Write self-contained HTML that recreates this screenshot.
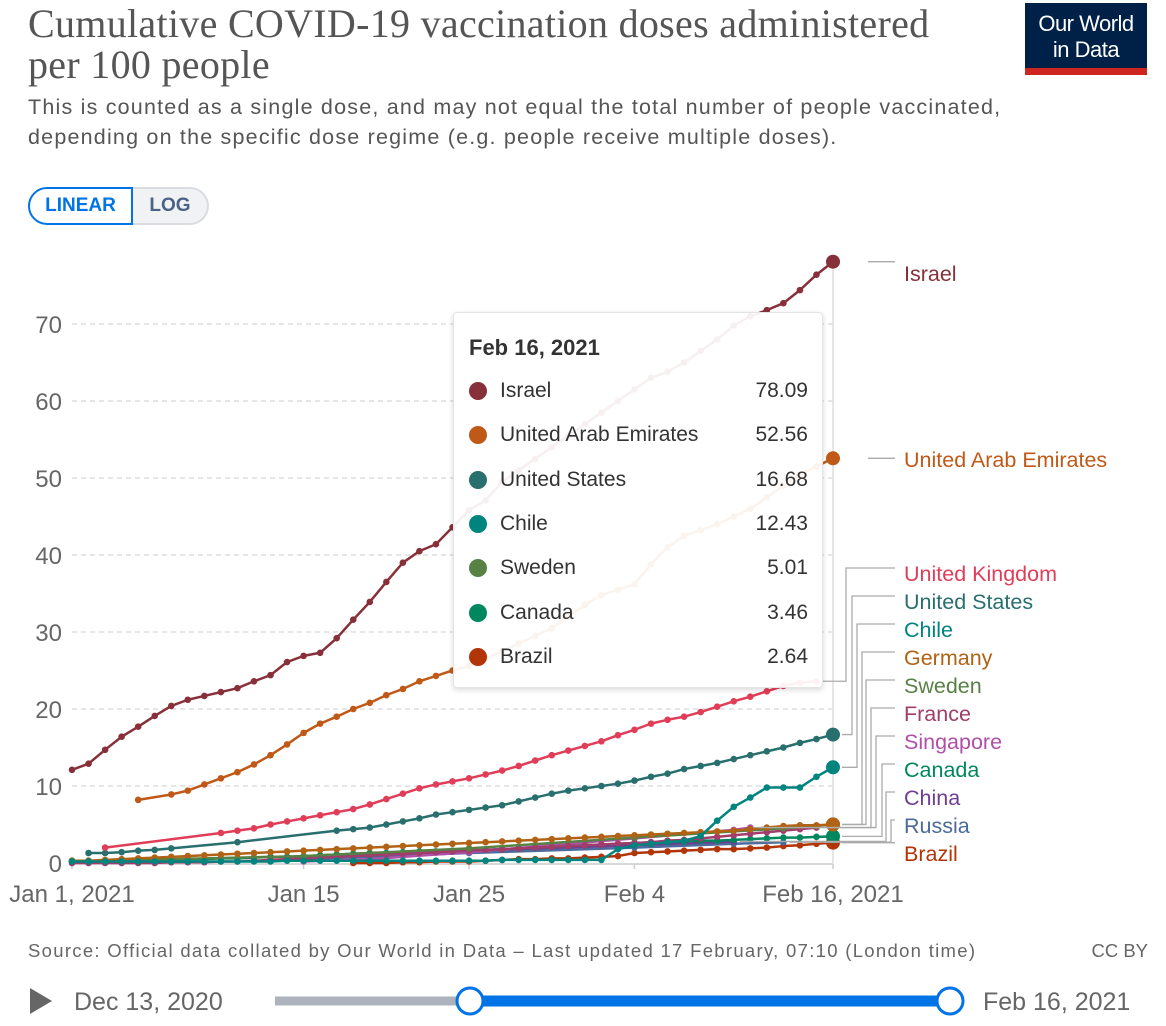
<!DOCTYPE html>
<html><head><meta charset="utf-8">
<style>
body{margin:0;background:#fff;width:1166px;height:1026px;overflow:hidden;font-family:"Liberation Sans",sans-serif;position:relative}
.abs{position:absolute}
#title{left:28px;top:3px;font-family:"Liberation Serif",serif;font-size:40px;line-height:41px;color:#555;letter-spacing:0.3px}
#sub{left:28px;top:92px;font-size:21.5px;line-height:30px;color:#555;letter-spacing:1.2px}
#logo{left:1025px;top:3px;width:122px;height:72px;background:#002147;color:#fff;font-size:22px;line-height:26px;text-align:center;box-sizing:border-box;padding-top:8px;letter-spacing:-0.5px}
#logo div.bar{position:absolute;left:0;bottom:0;width:100%;height:7px;background:#ce261e}
#lin{left:28px;top:187px;width:105px;height:38px;border:2px solid #0073e6;border-radius:20px 0 0 20px;box-sizing:border-box;color:#0073e6;font-weight:bold;font-size:19px;line-height:34px;text-align:center}
#log{left:133px;top:187px;width:76px;height:38px;border:2px solid #d8dbe0;border-left:none;border-radius:0 20px 20px 0;box-sizing:border-box;background:#f1f2f3;color:#4a6288;font-weight:bold;font-size:19px;line-height:34px;text-align:center}
#tip{left:453px;top:312px;width:370px;height:376px;background:rgba(255,255,255,0.93);border:1px solid #e4e4e4;border-radius:4px;box-shadow:0 2px 6px rgba(0,0,0,0.15);box-sizing:border-box}
#tip .t{position:absolute;left:15px;top:22px;font-weight:bold;font-size:22px;color:#333}
#tip .r{position:absolute;left:0;width:100%;height:30px;font-size:21px;color:#333}
#tip .r .d{position:absolute;left:15px;top:5px;width:18px;height:18px;border-radius:50%}
#tip .r .n{position:absolute;left:46px;top:2px}
#tip .r .v{position:absolute;right:14px;top:2px}
#src{left:28px;top:940px;font-size:18.5px;color:#666;letter-spacing:1.3px}
#cc{right:18px;top:940px;font-size:18.5px;color:#666}
</style></head><body>
<div id="title" class="abs">Cumulative COVID-19 vaccination doses administered<br>per 100 people</div>
<div id="sub" class="abs">This is counted as a single dose, and may not equal the total number of people vaccinated,<br>depending on the specific dose regime (e.g. people receive multiple doses).</div>
<div id="logo" class="abs">Our World<br>in Data<div class="bar"></div></div>
<div id="lin" class="abs">LINEAR</div>
<div id="log" class="abs">LOG</div>
<svg id="chart" class="abs" style="left:0;top:0" width="1166" height="1026"></svg>
<div id="tip" class="abs">
<div class="t">Feb 16, 2021</div>
</div>
<div id="src" class="abs">Source: Official data collated by Our World in Data – Last updated 17 February, 07:10 (London time)</div>
<div id="cc" class="abs">CC BY</div>
<script>
const dayLabels=["Jan 1, 2021","Jan 15","Jan 25","Feb 4","Feb 16, 2021"];
const dayTicks=[0,14,24,34,46];
const yTicks=[0,10,20,30,40,50,60,70];
const names=["Israel","United Arab Emirates","United Kingdom","United States","Chile","Germany","Sweden","France","Singapore","Canada","China","Russia","Brazil"];
const colors=["#883039","#c05917","#e03d58","#286f6d","#00847e","#b16214","#578145","#a13c6b","#b04fa9","#00875e","#6d3e91","#4c6a9c","#b13507"];
const N=null;
const israel=[12.1,12.9,14.7,16.4,17.7,19.1,20.4,21.2,21.7,22.2,22.7,23.6,24.4,26.1,26.9,27.3,29.2,31.6,33.9,36.5,39.0,40.5,41.4,43.6,45.8,47.1,49.5,51,52.5,54,55.5,57,58.5,60,61.5,63,63.8,65,66.5,68,69.8,71.0,71.8,72.7,74.4,76.4,78.09];
const uae=[N,N,N,N,8.2,N,8.9,9.4,10.2,11,11.8,12.8,14,15.4,16.9,18.1,19,20,20.8,21.8,22.6,23.6,24.3,25,25.6,26.5,27.5,28.5,29.5,30.5,32,33.5,34.8,35.5,36.2,38.8,41,42.5,43.2,44,45,46,47.5,49,50.5,51.5,52.56];
const uk=[N,N,2.0,N,N,N,N,N,N,3.9,4.2,4.5,5.0,5.4,5.8,6.2,6.6,7.0,7.6,8.3,9.0,9.7,10.2,10.6,11.0,11.5,12.0,12.6,13.3,14.0,14.6,15.2,15.8,16.6,17.3,18.1,18.6,19.0,19.6,20.3,21.0,21.6,22.3,23.0,23.4,23.6,N];
const us=[N,1.3,1.3,1.4,1.6,1.7,1.9,N,N,N,2.7,N,N,N,N,N,4.2,4.4,4.6,5.0,5.4,5.8,6.3,6.6,6.9,7.2,7.5,8.0,8.5,9.0,9.4,9.7,10.0,10.3,10.7,11.2,11.6,12.2,12.6,13.0,13.5,14.0,14.5,15.0,15.6,16.1,16.68];
const chile=[0.2,0.2,0.2,0.2,0.2,0.2,0.2,0.2,0.2,0.2,0.2,0.2,0.2,0.3,0.3,0.3,0.3,0.3,0.3,0.3,0.3,0.3,0.3,0.3,0.3,0.3,0.4,0.4,0.4,0.4,0.4,0.4,0.4,1.8,2.3,2.5,2.7,2.9,3.5,5.5,7.3,8.5,9.8,9.8,9.8,11.2,12.43];
const germany=[0.3,0.3,0.4,0.5,0.6,0.7,0.8,0.9,1.0,1.1,1.2,1.3,1.4,1.5,1.6,1.7,1.8,1.9,2.0,2.1,2.2,2.3,2.4,2.5,2.6,2.7,2.8,2.9,3.0,3.1,3.2,3.3,3.4,3.5,3.6,3.7,3.8,3.9,4.0,4.1,4.2,4.4,4.6,4.8,4.9,4.9,5.0];
const sweden=[0.2,N,0.3,N,N,N,N,N,N,N,N,N,N,N,0.9,N,N,N,N,N,N,N,N,N,1.9,N,N,N,N,N,N,N,N,N,3.3,N,N,N,N,N,N,N,N,4.5,N,4.8,5.01];
const france=[0.0,0.0,0.0,0.0,0.0,0.0,0.1,0.1,0.1,0.2,0.2,0.3,0.4,0.5,0.6,0.7,0.8,0.9,1.0,1.1,1.2,1.3,1.4,1.5,1.6,1.7,1.8,1.9,2.0,2.1,2.2,2.3,2.4,2.5,2.6,2.7,2.9,3.0,3.2,3.4,3.6,3.8,4.0,4.2,4.4,4.6,N];
const singapore=[N,N,N,N,N,N,N,N,N,N,N,N,N,N,0.2,N,N,N,0.5,N,N,N,N,N,1.4,N,N,N,N,N,2.5,N,N,N,3.2,N,N,N,N,N,4.3,4.6,N,N,N,N,N];
const canada=[0.3,0.3,0.3,0.3,0.3,0.4,0.4,0.5,0.5,0.6,0.6,0.7,0.8,0.8,0.9,1.0,1.1,1.2,1.3,1.3,1.4,1.5,1.5,1.6,1.6,1.7,1.8,1.9,2.0,2.1,2.2,2.3,2.4,2.5,2.6,2.7,2.8,2.8,2.9,2.9,3.0,3.1,3.2,3.3,3.3,3.4,3.46];
const china=[N,N,N,N,N,N,N,N,N,N,N,N,N,N,0.6,N,N,N,N,N,N,N,N,N,1.6,N,N,N,N,N,N,N,N,N,2.3,N,N,N,N,N,2.8,N,N,N,N,N,N];
const russia=[N,N,N,N,N,N,N,N,N,N,N,N,N,N,0.5,N,N,N,N,N,N,N,N,N,1.3,N,N,N,N,N,N,N,N,N,2.0,N,N,N,N,N,2.5,N,N,2.7,N,N,N];
const brazil=[N,N,N,N,N,N,N,N,N,N,N,N,N,N,N,N,N,0.0,0.0,0.0,0.1,0.1,0.2,0.2,0.2,0.3,0.4,0.5,0.5,0.6,0.6,0.7,0.8,0.9,1.3,1.4,1.5,1.6,1.7,1.8,1.8,1.9,2.0,2.2,2.3,2.5,2.64];
const series=[israel,uae,uk,us,chile,germany,sweden,france,singapore,canada,china,russia,brazil];
const labelY=[273,459,573,601,629,657,685,713,741,769,797,825,853];
const tipNames=["Israel","United Arab Emirates","United States","Chile","Sweden","Canada","Brazil"];
const tipVals=["78.09","52.56","16.68","12.43","5.01","3.46","2.64"];
const tipColors=["#883039","#c05917","#286f6d","#00847e","#578145","#00875e","#b13507"];

const X0=72,X1=833,Y0=863,YK=7.7;
const xs=d=>X0+(X1-X0)*d/46;
const ys=v=>Y0-v*YK;
const svg=document.getElementById('chart');
const NS='http://www.w3.org/2000/svg';
function mk(t,a,txt){const e=document.createElementNS(NS,t);for(const k in a)e.setAttribute(k,a[k]);if(txt!=null)e.textContent=txt;svg.appendChild(e);return e;}
yTicks.forEach(v=>{
  if(v>0){const g=mk('line',{x1:X0,x2:X1,y1:ys(v),y2:ys(v),stroke:'#ddd','stroke-dasharray':'5,4','stroke-width':1.5});
  
  }
  const t=mk('text',{x:62,y:ys(v)+9,'text-anchor':'end','font-size':24,fill:'#666','font-family':'Liberation Sans'},v);
  
  
});
const ax=mk('line',{x1:X0,x2:X1,y1:Y0+1,y2:Y0+1,stroke:'#ccc','stroke-width':1.5});


dayTicks.forEach((d,i)=>{
  const tk=mk('line',{x1:xs(d),x2:xs(d),y1:Y0+1,y2:Y0+6,stroke:'#ccc','stroke-width':1.5});
  
  
  const t=mk('text',{x:xs(d),y:902,'text-anchor':'middle','font-size':24,fill:'#666','font-family':'Liberation Sans'},dayLabels[i]);
  
  
});
const hv=mk('line',{x1:X1,x2:X1,y1:ys(israel[46]),y2:Y0,stroke:'#ddd','stroke-width':1.5});


for(let s=series.length-1;s>=0;s--){
  const arr=series[s],col=colors[s];
  const pts=[];arr.forEach((v,d)=>{if(v!=null)pts.push([xs(d),ys(v)]);});
  const pl=mk('polyline',{points:pts.map(p=>p.join(',')).join(' '),fill:'none',stroke:col,'stroke-width':2.5,'stroke-linejoin':'round'});
  
  
  pts.forEach(p=>{const c=mk('circle',{cx:p[0],cy:p[1],r:3.3,fill:col});
    
    });
  if(arr[46]!=null){const c=mk('circle',{cx:xs(46),cy:ys(arr[46]),r:7,fill:col});
    
    }
}
const vx=[0,0,846,852,857,862,866,871,876,882,886,891,891];
names.forEach((n,i)=>{
  const arr=series[i];let last=46;while(arr[last]==null)last--;
  const yv=ys(arr[last]),xe=xs(last)+(last===46?9:6);
  let pts;
  if(i<2) pts=[[868,yv],[895,yv]];
  else if(i===12) pts=[[xe,yv],[895,yv]];
  else pts=[[xe,yv],[vx[i],yv],[vx[i],labelY[i]-5],[895,labelY[i]-5]];
  const c=mk('polyline',{points:pts.map(p=>p.join(',')).join(' '),fill:'none',stroke:'#aaa','stroke-width':1.3});
  
  
  const t=mk('text',{x:904,y:labelY[i]+8,'font-size':21.5,fill:colors[i],'font-family':'Liberation Sans'},n);
  
  
});
const tip=document.getElementById('tip');
tipNames.forEach((n,i)=>{
  const r=document.createElement('div');r.className='r';r.style.top=(64+i*44.3)+'px';
  
  
  r.innerHTML='<div class="d" style="background:'+tipColors[i]+'"></div><div class="n">'+n+'</div><div class="v">'+tipVals[i]+'</div>';
  tip.appendChild(r);
});
const play=mk('polygon',{points:'30,988 30,1014 52,1001',fill:'#666'});


const t1=mk('text',{x:74,y:1010,'font-size':25,fill:'#666','font-family':'Liberation Sans'},'Dec 13, 2020');


const tr=mk('line',{x1:275,x2:470,y1:1001,y2:1001,stroke:'#adb3bd','stroke-width':9});


const ti=mk('line',{x1:470,x2:950,y1:1001,y2:1001,stroke:'#0073e6','stroke-width':11});


[470,950].forEach(x=>{const h=mk('circle',{cx:x,cy:1001,r:13,fill:'#fff',stroke:'#0073e6','stroke-width':3});
  
  });
const t2=mk('text',{x:983,y:1010,'font-size':25,fill:'#666','font-family':'Liberation Sans'},'Feb 16, 2021');


</script>
</body></html>
